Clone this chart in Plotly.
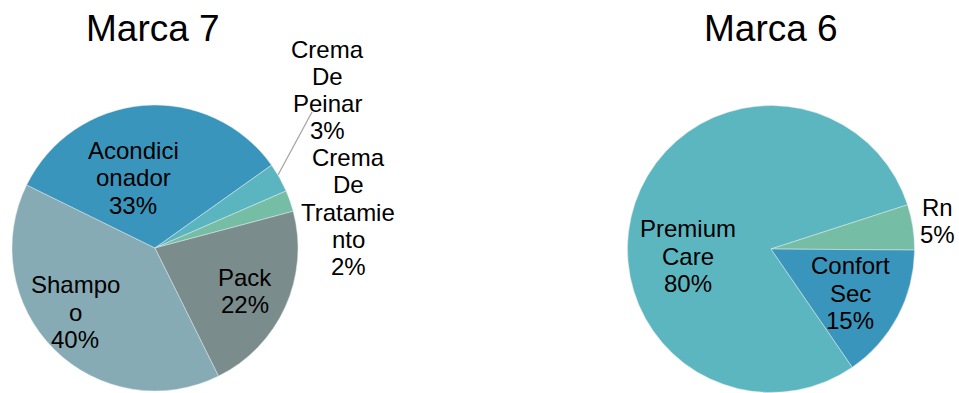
import plotly.graph_objects as go

FONT = "Liberation Sans, Arial, sans-serif"

# ---- Marca 7 ----
m7_categories = ["Shampoo", "Acondicionador", "Crema De Peinar", "Crema De Tratamiento", "Pack"]
m7_values = [39.6, 32.9, 3.3, 2.4, 21.8]
m7_label_lines = [["Shampo", "o"], ["Acondici", "onador"], ["Crema", "De", "Peinar"],
                  ["Crema", "De", "Tratamie", "nto"], ["Pack"]]
m7_colors = ["#86ABB5", "#3A95BC", "#5BB5C0", "#76BDA5", "#7B8C8D"]

# ---- Marca 6 ----
m6_categories = ["Premium Care", "Rn", "Confort Sec"]
m6_values = [79.6, 5.1, 15.3]
m6_label_lines = [["Premium", "Care"], ["Rn"], ["Confort", "Sec"]]
m6_colors = ["#5BB6C0", "#76BDA5", "#3A95BC"]

W, H = 959, 393
LABEL_SIZE = 24
LINE_GAP = 27.2

fig = go.Figure()
fig.add_trace(go.Pie(
    labels=m7_categories, values=m7_values, sort=False, direction="clockwise",
    rotation=153.6, marker=dict(colors=m7_colors, line=dict(color="#E3EAEC", width=0.5)),
    textinfo="none", hoverinfo="label+percent", showlegend=False,
    domain=dict(x=[12 / W, 298 / W], y=[(H - 391) / H, (H - 105) / H]),
))
fig.add_trace(go.Pie(
    labels=m6_categories, values=m6_values, sort=False, direction="clockwise",
    rotation=145.5, marker=dict(colors=m6_colors, line=dict(color="#E3EAEC", width=0.5)),
    textinfo="none", hoverinfo="label+percent", showlegend=False,
    domain=dict(x=[627.5 / W, 914.5 / W], y=[(H - 392.5) / H, (H - 105.5) / H]),
))

# label centres (pixels) for each slice
m7_label_pos = [(75, 312), (133, 178), (327, 90), (348, 212), (245, 291)]
m6_label_pos = [(688, 256), (937, 221), (850, 293)]

annotations = []


def add_label(lines, v, total, px, py):
    all_lines = lines + [f"{round(v / total * 100):.0f}%"]
    n = len(all_lines)
    for i, t in enumerate(all_lines):
        ly = py + (i - (n - 1) / 2) * LINE_GAP
        annotations.append(dict(x=px / W, y=1 - ly / H, xref="paper", yref="paper",
                                text=t, showarrow=False,
                                xanchor="center", yanchor="middle", align="center",
                                font=dict(family=FONT, size=LABEL_SIZE, color="#000000")))


t7 = sum(m7_values)
for lines, v, (px, py) in zip(m7_label_lines, m7_values, m7_label_pos):
    add_label(lines, v, t7, px, py)
t6 = sum(m6_values)
for lines, v, (px, py) in zip(m6_label_lines, m6_values, m6_label_pos):
    add_label(lines, v, t6, px, py)

# titles
annotations.append(dict(x=153 / W, y=1 - 29 / H, xref="paper", yref="paper", text="Marca 7",
                        showarrow=False, xanchor="center", yanchor="middle",
                        font=dict(family=FONT, size=37, color="#000000")))
annotations.append(dict(x=771 / W, y=1 - 29 / H, xref="paper", yref="paper", text="Marca 6",
                        showarrow=False, xanchor="center", yanchor="middle",
                        font=dict(family=FONT, size=37, color="#000000")))

# leader line for Crema De Peinar
shapes = [dict(type="line", xref="paper", yref="paper",
               x0=278 / W, y0=1 - 175 / H, x1=312 / W, y1=1 - 112 / H,
               line=dict(color="#A6A6A6", width=1.3))]

fig.update_layout(
    width=W, height=H, margin=dict(l=0, r=0, t=0, b=0),
    paper_bgcolor="white", plot_bgcolor="white",
    annotations=annotations, shapes=shapes,
)

fig.write_html("out.html")
